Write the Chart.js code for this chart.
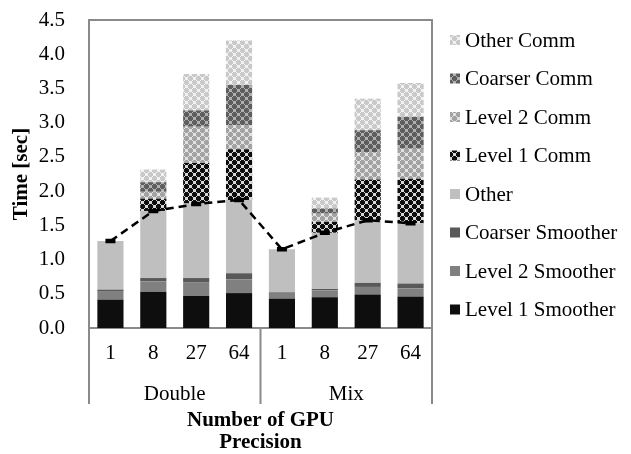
<!DOCTYPE html>
<html><head><meta charset="utf-8">
<script src="https://cdn.jsdelivr.net/npm/chart.js@4"></script>
<style>html,body{margin:0;padding:0;background:#fff}#wrap{width:631px;height:454px}</style>
</head><body><div id="wrap"><canvas id="c" width="631" height="454"></canvas></div>
<script>
const categories = ['1','8','27','64','1','8','27','64'];
const groups = ['Double','Mix'];
const yTicks = [0,0.5,1,1.5,2,2.5,3,3.5,4,4.5];
const level1Smoother  = [0.415,0.53,0.47,0.51, 0.43,0.45,0.49,0.46];
const level2Smoother  = [0.125,0.15,0.20,0.20, 0.07,0.10,0.11,0.12];
const coarserSmoother = [0.02,0.05,0.06,0.09, 0.02,0.02,0.06,0.07];
const other           = [0.71,0.98,1.09,1.07, 0.63,0.82,0.915,0.88];
const level1Comm      = [0,0.18,0.59,0.74, 0,0.16,0.595,0.65];
const level2Comm      = [0,0.10,0.53,0.35, 0,0.12,0.40,0.44];
const coarserComm     = [0,0.14,0.24,0.59, 0,0.075,0.32,0.465];
const otherComm       = [0,0.185,0.53,0.65, 0,0.16,0.46,0.495];
const computeTotal    = [1.27,1.71,1.81,1.87, 1.15,1.39,1.575,1.53];

const FONT = "'Liberation Serif','Times New Roman',serif";
const FS = 21;

function makePattern(bg, fg) {
  const t = document.createElement('canvas'); t.width = 8; t.height = 8;
  const g = t.getContext('2d');
  g.fillStyle = bg; g.fillRect(0,0,8,8);
  g.fillStyle = fg;
  const plus = (cx, cy) => {
    for (let dx=-2; dx<=2; dx++) for (let dy=-1; dy<=1; dy++) {
      g.fillRect(((cx+dx)%8+8)%8, ((cy+dy)%8+8)%8, 1, 1);
      g.fillRect(((cx+dy)%8+8)%8, ((cy+dx)%8+8)%8, 1, 1);
    }
  };
  plus(2,2); plus(6,6);
  return document.createElement('canvas').getContext('2d').createPattern(t,'repeat');
}

const pOtherComm = makePattern('#f2f2f2', '#c9c9c9');
const pCoarserComm = makePattern('#b0b0b0', '#5e5e5e');
const pLevel2Comm = makePattern('#e2e2e2', '#a3a3a3');
const pLevel1Comm = makePattern('#d8d8d8', '#0e0e0e');

const barDs = (label, data, color) => ({
  type:'bar', label, data, backgroundColor: color, borderWidth:0,
  stack:'s', categoryPercentage:1, barPercentage:0.61, order:2
});

const datasets = [
  barDs('Level 1 Smoother', level1Smoother, '#0e0e0e'),
  barDs('Level 2 Smoother', level2Smoother, '#808080'),
  barDs('Coarser Smoother', coarserSmoother, '#595959'),
  barDs('Other', other, '#bfbfbf'),
  barDs('Level 1 Comm', level1Comm, pLevel1Comm),
  barDs('Level 2 Comm', level2Comm, pLevel2Comm),
  barDs('Coarser Comm', coarserComm, pCoarserComm),
  barDs('Other Comm', otherComm, pOtherComm),
  {type:'line', label:'Compute', data: computeTotal, stack:'line', borderColor:'#000',
   borderWidth:2.5, borderDash:[8,5], pointStyle:'line', pointRadius:5, pointBorderWidth:4.5,
   pointBorderColor:'#000', fill:false, tension:0, order:1}
];

const decor = {
  id:'decor',
  afterDraw(chart) {
    const ctx = chart.ctx, ca = chart.chartArea, x = chart.scales.x;
    ctx.save();
    ctx.strokeStyle = '#8a8a8a'; ctx.lineWidth = 2;
    ctx.beginPath();
    ctx.moveTo(ca.left, ca.top); ctx.lineTo(ca.right, ca.top); ctx.lineTo(ca.right, ca.bottom);
    ctx.stroke();
    const mid = (x.getPixelForValue(3) + x.getPixelForValue(4)) / 2;
    ctx.beginPath();
    [ca.left, mid, ca.right].forEach(px => { ctx.moveTo(px, ca.bottom); ctx.lineTo(px, 404); });
    ctx.stroke();
    ctx.fillStyle = '#000'; ctx.font = FS + 'px ' + FONT;
    ctx.textAlign = 'center'; ctx.textBaseline = 'middle';
    groups.forEach((gname, gi) => {
      const a = x.getPixelForValue(gi*4), b = x.getPixelForValue(gi*4+3);
      ctx.fillText(gname, (a+b)/2, 394);
    });
    ctx.textAlign = 'left';
    const bars = chart.data.datasets.filter(d => d.type === 'bar').slice().reverse();
    bars.forEach((d, i) => {
      const cy = 40 + i*38.5;
      ctx.fillStyle = d.backgroundColor;
      ctx.fillRect(450, cy-5, 10, 10);
      ctx.fillStyle = '#000';
      ctx.fillText(d.label, 465, cy+1);
    });
    ctx.restore();
  }
};

new Chart(document.getElementById('c'), {
  data: { labels: categories, datasets },
  options: {
    responsive:false, animation:false, devicePixelRatio:1,
    layout:{ padding:{ top:20, right:199, bottom:0, left:0 } },
    plugins:{ legend:{display:false}, tooltip:{enabled:false} },
    scales:{
      x:{ stacked:true, grid:{display:false, drawTicks:false},
          border:{display:true, color:'#8a8a8a', width:2},
          ticks:{ color:'#000', font:{family:FONT, size:FS}, padding:13, maxRotation:0, autoSkip:false },
          title:{ display:true, text:['Number of GPU','Precision'], color:'#000',
                  font:{family:FONT, size:FS, weight:'bold', lineHeight:1.05}, padding:{top:0,bottom:0} },
          afterFit: s => { s.height = 126; s.paddingLeft = 0; s.paddingRight = 0; } },
      y:{ stacked:true, min:0, max:4.5,
          afterBuildTicks: s => { s.ticks = yTicks.map(v => ({value:v})); },
          grid:{display:false, drawTicks:false},
          border:{display:true, color:'#8a8a8a', width:2},
          ticks:{ color:'#000', font:{family:FONT, size:FS}, padding:24, callback: v => Number(v).toFixed(1) },
          title:{ display:true, text:'Time [sec]', color:'#000',
                  font:{family:FONT, size:FS, weight:'bold'}, padding:{top:9,bottom:0} },
          afterFit: s => { s.width = 89; s.paddingTop = 0; s.paddingBottom = 0; } }
    }
  },
  plugins:[decor]
});
</script></body></html>
